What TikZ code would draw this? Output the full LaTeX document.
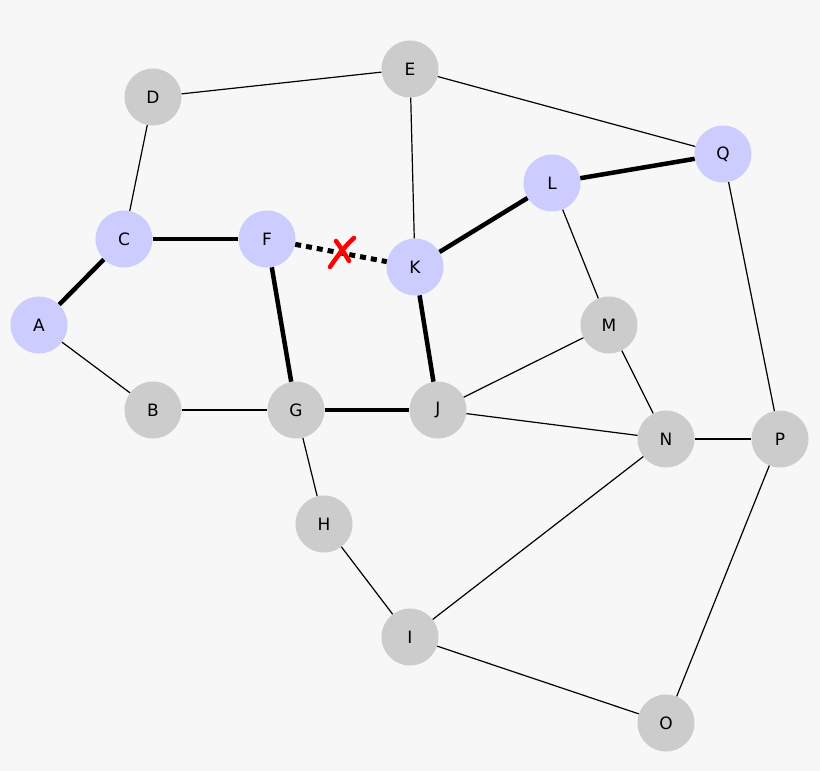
\documentclass[tikz,border=0pt]{standalone}
\usepackage{fontspec}
\setmainfont{DejaVu Sans}
\usepackage{xcolor}
\definecolor{bgcol}{HTML}{F7F7F7}
\definecolor{pathcol}{HTML}{CCCCFF}
\definecolor{restcol}{HTML}{CCCCCC}

\begin{document}
\begin{tikzpicture}[x=1pt, y=-1pt,
        vtx/.style={circle, minimum size=57pt, inner sep=0pt, font=\fontsize{17}{20}\selectfont},
        onpath/.style={vtx, fill=pathcol},
        offpath/.style={vtx, fill=restcol},
        thin edge/.style={line width=1.2pt},
        thick edge/.style={line width=4.5pt},
        cut edge/.style={line width=5pt, dash pattern=on 6pt off 5pt},
        cross/.style={red, line width=4.5pt, line cap=round}]
        % 背景
        \fill[bgcol] (0,0) rectangle (820,771);
        \useasboundingbox (0,0) rectangle (820,771);
        
        % 路径上的顶点
        \node[onpath] (A) at (39, 325) {A};
        \node[onpath] (C) at (124, 239) {C};
        \node[onpath] (F) at (267, 239) {F};
        \node[onpath] (K) at (415, 267) {K};
        \node[onpath] (L) at (552, 183) {L};
        \node[onpath] (Q) at (723, 154) {Q};
        
        % 其余顶点
        \node[offpath] (B) at (153, 410) {B};
        \node[offpath] (D) at (153, 97) {D};
        \node[offpath] (E) at (410, 69) {E};
        \node[offpath] (G) at (296, 410) {G};
        \node[offpath] (H) at (324, 524) {H};
        \node[offpath] (I) at (410, 637) {I};
        \node[offpath] (J) at (438, 410) {J};
        \node[offpath] (M) at (609, 325) {M};
        \node[offpath] (N) at (666, 439) {N};
        \node[offpath] (O) at (666, 723) {O};
        \node[offpath] (P) at (780, 439) {P};
        
        % 细边
        \foreach \u/\v in {A/B, B/G, C/D, D/E, E/K, E/Q, G/H, H/I, I/N, I/O,
                           J/M, J/N, L/M, M/N, N/P, P/Q, P/O}
            \draw[thin edge] (\u) -- (\v);
        
        % 粗边
        \foreach \u/\v in {A/C, C/F, F/G, G/J, J/K, K/L, L/Q}
            \draw[thick edge] (\u) -- (\v);
        
        % 断开的边
        \draw[cut edge] (F) -- (K);
        \draw[cross] (330, 267) .. controls (338, 255) and (346, 245) .. (354, 238);
        \draw[cross] (336, 241) .. controls (341, 248) and (345, 254) .. (349, 261);
        \end{tikzpicture}
\end{document}
